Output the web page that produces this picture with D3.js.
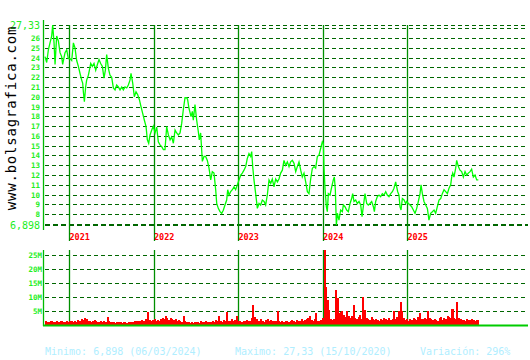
<!DOCTYPE html>
<html>
<head>
    <script src="https://d3js.org/d3.v7.min.js"></script>
    <style>
        body { margin: 0; background: #fff; }
        svg { display: block; }
        .tick-label { font-family: "DejaVu Sans Mono", monospace; font-size: 7.5px; font-weight: bold; fill: #22ee22; }
        .big-label { font-family: "DejaVu Sans Mono", monospace; font-size: 10px; fill: #22ee22; }
        .year-label { font-family: "DejaVu Sans Mono", monospace; font-size: 8.5px; font-weight: bold; fill: #ff0000; }
        .footer { font-family: "DejaVu Sans Mono", monospace; font-size: 10px; fill: #b0eeff; }
        .site { font-family: "DejaVu Sans Mono", monospace; font-size: 14px; fill: #000; letter-spacing: 0.8px; }
    </style>
</head>
<body>
<svg id="chart" width="530" height="360"></svg>
<script>
    // price series: [decimal year, price]
    const prices = [
        [2020.716, 24.1], [2020.736, 23.5], [2020.756, 24.8], [2020.775, 25.5], [2020.795, 26.2], [2020.807, 27.33],
        [2020.823, 25.5], [2020.835, 23.3], [2020.854, 26.2], [2020.874, 25.7], [2020.894, 24.5], [2020.913, 24.1],
        [2020.925, 23.3], [2020.941, 24.0], [2020.953, 24.5], [2020.973, 24.8], [2020.992, 23.9], [2021.012, 23.9],
        [2021.032, 23.7], [2021.052, 25.5], [2021.071, 25.0], [2021.091, 23.7], [2021.111, 23.1], [2021.130, 22.4],
        [2021.150, 21.7], [2021.162, 21.4], [2021.170, 20.5], [2021.182, 19.5], [2021.197, 21.0], [2021.209, 21.7],
        [2021.229, 22.2], [2021.241, 22.7], [2021.257, 23.4], [2021.276, 23.1], [2021.296, 23.4], [2021.316, 22.7],
        [2021.336, 23.3], [2021.355, 23.8], [2021.375, 23.4], [2021.395, 23.1], [2021.414, 21.9], [2021.430, 22.7],
        [2021.446, 24.3], [2021.466, 22.9], [2021.485, 22.2], [2021.505, 22.0], [2021.525, 20.9], [2021.545, 20.7],
        [2021.564, 21.2], [2021.584, 21.0], [2021.604, 20.7], [2021.624, 21.0], [2021.643, 20.7], [2021.663, 21.0],
        [2021.683, 20.9], [2021.702, 21.2], [2021.722, 21.7], [2021.734, 22.4], [2021.754, 21.4], [2021.773, 20.0],
        [2021.793, 20.5], [2021.813, 20.2], [2021.833, 19.7], [2021.852, 19.0], [2021.872, 18.3], [2021.892, 17.6],
        [2021.912, 16.95], [2021.927, 15.6], [2021.943, 15.25], [2021.959, 16.1], [2021.979, 16.6], [2021.998, 17.0],
        [2022.018, 16.3], [2022.038, 16.9], [2022.057, 15.4], [2022.077, 15.08], [2022.097, 14.9], [2022.117, 14.6],
        [2022.136, 14.6], [2022.156, 16.95], [2022.176, 16.1], [2022.196, 15.6], [2022.215, 15.9], [2022.235, 15.25],
        [2022.255, 16.6], [2022.274, 16.3], [2022.294, 16.1], [2022.314, 16.3], [2022.334, 17.3], [2022.353, 18.7],
        [2022.373, 19.9], [2022.393, 19.9], [2022.404, 19.7], [2022.420, 18.8], [2022.444, 17.97], [2022.460, 18.5],
        [2022.471, 17.6], [2022.491, 19.2], [2022.511, 17.6], [2022.531, 16.4], [2022.542, 15.6], [2022.558, 16.3],
        [2022.578, 13.4], [2022.598, 13.9], [2022.617, 13.9], [2022.637, 13.5], [2022.657, 12.7], [2022.677, 11.5],
        [2022.696, 12.35], [2022.716, 12.2], [2022.736, 10.5], [2022.748, 9.1], [2022.767, 8.6], [2022.787, 8.26],
        [2022.807, 8.09], [2022.826, 8.4], [2022.846, 8.94], [2022.866, 9.45], [2022.878, 10.5], [2022.894, 9.96],
        [2022.913, 10.3], [2022.933, 10.5], [2022.953, 10.8], [2022.972, 10.5], [2022.992, 11.0], [2023.012, 11.5],
        [2023.032, 12.0], [2023.051, 12.2], [2023.071, 12.5], [2023.091, 12.86], [2023.110, 13.7], [2023.130, 14.2],
        [2023.150, 13.9], [2023.162, 14.4], [2023.174, 12.86], [2023.189, 11.5], [2023.209, 10.1], [2023.229, 8.6],
        [2023.249, 9.1], [2023.268, 8.94], [2023.288, 9.45], [2023.308, 9.3], [2023.327, 8.94], [2023.347, 9.96],
        [2023.367, 11.5], [2023.387, 11.16], [2023.406, 11.6], [2023.426, 10.8], [2023.446, 11.6], [2023.466, 11.3],
        [2023.485, 11.6], [2023.505, 12.2], [2023.525, 12.5], [2023.544, 13.5], [2023.564, 13.0], [2023.584, 13.35],
        [2023.604, 12.86], [2023.623, 13.35], [2023.643, 13.5], [2023.663, 13.2], [2023.683, 12.35], [2023.702, 12.86],
        [2023.722, 13.35], [2023.742, 12.5], [2023.761, 11.8], [2023.781, 12.2], [2023.801, 11.3], [2023.821, 10.3],
        [2023.840, 10.1], [2023.860, 11.6], [2023.880, 12.7], [2023.900, 12.86], [2023.919, 12.7], [2023.939, 13.9],
        [2023.959, 14.05], [2023.979, 14.74], [2023.998, 15.4], [2024.010, 15.2], [2024.018, 12.7], [2024.030, 10.6],
        [2024.046, 8.77], [2024.057, 8.26], [2024.069, 10.1], [2024.089, 9.96], [2024.109, 10.8], [2024.128, 11.5],
        [2024.140, 11.8], [2024.152, 10.5], [2024.164, 6.898], [2024.176, 8.1], [2024.195, 7.4], [2024.215, 8.43],
        [2024.235, 8.26], [2024.247, 8.94], [2024.266, 8.77], [2024.286, 8.43], [2024.306, 8.26], [2024.326, 9.1],
        [2024.345, 9.6], [2024.357, 10.1], [2024.373, 9.3], [2024.393, 9.45], [2024.412, 9.1], [2024.432, 9.3],
        [2024.452, 8.94], [2024.468, 7.75], [2024.483, 8.77], [2024.503, 10.1], [2024.523, 9.1], [2024.542, 8.94],
        [2024.562, 9.1], [2024.582, 9.3], [2024.602, 8.77], [2024.614, 8.26], [2024.629, 9.3], [2024.649, 9.8],
        [2024.669, 9.96], [2024.688, 9.8], [2024.708, 10.1], [2024.728, 9.96], [2024.748, 10.3], [2024.767, 9.96],
        [2024.787, 9.8], [2024.807, 10.1], [2024.827, 10.3], [2024.846, 10.65], [2024.866, 11.3], [2024.878, 10.8],
        [2024.890, 10.3], [2024.905, 9.96], [2024.917, 8.77], [2024.929, 8.43], [2024.945, 9.6], [2024.965, 9.45],
        [2024.984, 9.1], [2024.996, 9.3], [2025.016, 9.1], [2025.036, 8.94], [2025.055, 8.77], [2025.075, 8.43],
        [2025.095, 8.09], [2025.115, 8.6], [2025.134, 9.3], [2025.154, 10.1], [2025.166, 11.0], [2025.182, 10.1],
        [2025.201, 9.3], [2025.221, 8.94], [2025.241, 8.6], [2025.260, 7.4], [2025.280, 8.1], [2025.300, 8.26],
        [2025.320, 8.43], [2025.339, 8.09], [2025.359, 8.77], [2025.379, 9.45], [2025.399, 9.6], [2025.418, 10.1],
        [2025.438, 10.5], [2025.458, 10.3], [2025.478, 10.1], [2025.497, 10.65], [2025.517, 11.0], [2025.529, 11.8],
        [2025.541, 12.2], [2025.556, 11.8], [2025.576, 12.7], [2025.588, 13.5], [2025.608, 12.86], [2025.627, 12.5],
        [2025.647, 12.35], [2025.667, 11.8], [2025.687, 12.35], [2025.706, 12.0], [2025.726, 12.2], [2025.746, 12.35],
        [2025.765, 12.6], [2025.785, 11.8], [2025.805, 12.0], [2025.825, 11.5], [2025.844, 11.5]
    ];

    // weekly volume, millions, first week starting at volumeStart
    const volumeStart = 2020.716;
    const volumes = [
        1.3, 1.0, 0.9, 1.1, 1.4, 0.8, 1.0, 1.2, 0.9, 1.1, 1.3, 1.0, 0.8, 1.2, 1.0, 1.1,
        1.4, 0.9, 1.2, 1.0, 1.5, 1.3, 2.0, 1.6, 2.2, 1.8, 1.4, 1.2, 1.0, 1.1, 1.6, 1.3, 1.0, 0.9, 1.2,
        1.0, 1.1, 0.8, 2.6, 1.2, 1.0, 0.9, 0.8, 0.7, 0.9, 1.0, 0.8, 0.7, 0.8, 0.9, 0.7, 0.8, 1.0, 0.9, 0.8, 1.2, 1.4, 1.1, 1.3, 1.6, 1.2, 1.4, 1.9,
        4.3,
        1.5, 1.2, 1.6, 2.0, 1.4, 1.7, 1.3, 1.8, 2.4, 1.9, 3.0, 2.2, 1.6, 2.5, 1.8, 1.5, 2.1, 1.4, 1.7, 1.2, 1.0,
        3.0,
        1.2, 0.9, 0.8, 0.7, 0.8, 0.7, 0.9, 1.0, 0.8, 0.7, 1.1, 0.9, 0.8, 1.3, 0.9, 0.8,
        1.0, 1.2, 0.9, 1.5, 1.1, 3.0, 1.3, 1.0, 1.6, 1.2, 4.3, 1.4, 1.1, 1.8, 1.2, 1.5, 3.0, 1.3, 1.1,
        1.0, 1.4, 1.2, 1.7, 1.1, 1.3, 2.5, 7.0, 2.6, 1.8, 1.4, 1.2, 1.9, 1.3, 1.0, 1.5, 2.1, 1.2, 1.7, 1.4, 1.1, 1.3,
        5.0,
        1.2, 1.0, 1.4, 0.9, 1.1, 1.3, 1.0, 1.2, 1.5, 1.1, 1.0, 1.6, 1.2, 1.4, 1.8, 1.3, 1.5, 2.0, 2.2, 3.0, 1.6, 1.4, 1.9, 4.0, 1.3, 1.1, 1.5, 2.2,
        26.7,
        13.5, 8.8, 5.2, 2.0, 1.5, 2.0, 12.4, 9.4, 4.0, 4.5, 5.0, 3.5, 2.8, 4.8, 3.2,
        2.5, 3.0, 7.0, 2.2, 1.8, 2.6, 3.4, 1.9, 10.0, 5.2, 2.4, 2.0, 1.6, 2.8, 1.8, 1.5, 2.0, 1.7, 1.4, 1.9, 1.6, 2.2, 1.8, 1.5, 2.4, 1.7, 2.0,
        5.0,
        2.1, 2.6, 4.8, 8.2, 5.0, 2.2, 1.6, 1.8, 1.4, 2.0, 1.7, 2.5, 1.9, 1.6, 2.8, 4.2, 2.0, 1.8, 2.3, 1.9,
        5.0,
        2.4, 1.8, 1.5, 1.9, 1.6, 1.4, 2.2, 2.8, 1.7, 2.5, 2.0, 3.1, 2.6, 2.2, 5.6, 2.4, 2.0, 7.9, 2.3, 1.8, 1.5, 1.6, 1.4, 1.9, 1.7, 1.5, 1.8, 1.6, 1.4, 1.7, 1.5
    ];

    const years = [2021, 2022, 2023, 2024, 2025];
    const priceMin = 6.898;
    const priceMax = 27.33;
    const priceGridTicks = [8, 9, 10, 11, 12, 13, 14, 15, 16, 17, 18, 19, 20, 21, 22, 23, 24, 25, 26, 27];
    const priceLabelTicks = [8, 9, 10, 11, 12, 13, 14, 15, 16, 17, 18, 19, 20, 21, 22, 23, 24, 25, 26];
    const volumeTicks = [5, 10, 15, 20, 25];
    const volumeTickLabels = ["5M", "10M", "15M", "20M", "25M"];
    const footerTexts = ["Minimo: 6,898 (06/03/2024)", "Maximo: 27,33 (15/10/2020)", "Variación: 296%"];

    const svg = d3.select("#chart");
    const plotLeft = 43, plotRight = 528;

    const x = d3.scaleLinear().domain([2021, 2025]).range([69, 407]);
    const yPrice = d3.scaleLinear().domain([priceMin, priceMax]).range([225, 25]);
    const yVol = d3.scaleLinear().domain([0, 25]).range([324.5, 254.5]);

    // price grid
    svg.append("g").selectAll("line")
        .data(priceGridTicks.concat([priceMax]))
        .join("line")
        .attr("x1", plotLeft + 2).attr("x2", plotRight)
        .attr("y1", d => Math.round(yPrice(d)) + 0.5)
        .attr("y2", d => Math.round(yPrice(d)) + 0.5)
        .attr("stroke", "#006600")
        .attr("stroke-width", 1.2)
        .attr("stroke-dasharray", "4,3");

    svg.append("line")
        .attr("x1", plotLeft + 2).attr("x2", plotRight)
        .attr("y1", yPrice(priceMin)).attr("y2", yPrice(priceMin))
        .attr("stroke", "#006600")
        .attr("stroke-width", 2.2)
        .attr("stroke-dasharray", "5,3");

    // volume grid
    svg.append("g").selectAll("line")
        .data(volumeTicks)
        .join("line")
        .attr("x1", plotLeft + 2).attr("x2", plotRight)
        .attr("y1", d => Math.round(yVol(d)) + 0.5)
        .attr("y2", d => Math.round(yVol(d)) + 0.5)
        .attr("stroke", "#006600")
        .attr("stroke-width", 1.2)
        .attr("stroke-dasharray", "4,3");

    // year lines
    svg.append("g").selectAll("line")
        .data(years)
        .join("line")
        .attr("x1", d => Math.round(x(d)) + 0.5).attr("x2", d => Math.round(x(d)) + 0.5)
        .attr("y1", 25).attr("y2", 241)
        .attr("stroke", "#008f00")
        .attr("stroke-width", 1.3);

    svg.append("g").selectAll("line")
        .data(years)
        .join("line")
        .attr("x1", d => Math.round(x(d)) + 0.5).attr("x2", d => Math.round(x(d)) + 0.5)
        .attr("y1", 250).attr("y2", 326)
        .attr("stroke", "#008f00")
        .attr("stroke-width", 1.3);

    svg.append("g").selectAll("text")
        .data(years)
        .join("text")
        .attr("class", "year-label")
        .attr("x", d => x(d) + 0.5)
        .attr("y", 239.5)
        .text(d => d);

    // left axes
    svg.append("line")
        .attr("x1", plotLeft + 0.5).attr("x2", plotLeft + 0.5)
        .attr("y1", 20).attr("y2", 230)
        .attr("stroke", "#00bb00").attr("stroke-width", 1.3);
    svg.append("line")
        .attr("x1", plotLeft + 0.5).attr("x2", plotLeft + 0.5)
        .attr("y1", 250).attr("y2", 326)
        .attr("stroke", "#00bb00").attr("stroke-width", 1.3);

    // price labels
    svg.append("g").selectAll("text")
        .data(priceLabelTicks)
        .join("text")
        .attr("class", "tick-label")
        .attr("x", 40)
        .attr("y", d => yPrice(d) + 3)
        .attr("text-anchor", "end")
        .text(d => d);

    svg.append("text").attr("class", "big-label")
        .attr("x", 40).attr("y", yPrice(priceMax) + 3.5)
        .attr("text-anchor", "end")
        .text("27,33");
    svg.append("text").attr("class", "big-label")
        .attr("x", 40).attr("y", yPrice(priceMin) + 3.5)
        .attr("text-anchor", "end")
        .text("6,898");

    // volume labels
    svg.append("g").selectAll("text")
        .data(volumeTicks)
        .join("text")
        .attr("class", "tick-label")
        .attr("x", 42)
        .attr("y", d => yVol(d) + 3)
        .attr("text-anchor", "end")
        .text((d, i) => volumeTickLabels[i]);

    // volume bars
    const weekStep = 7 / 365.25;
    const barWidth = x(2021 + weekStep) - x(2021);
    svg.append("g").selectAll("rect")
        .data(volumes)
        .join("rect")
        .attr("x", (d, i) => x(volumeStart + i * weekStep))
        .attr("y", d => Math.max(250, yVol(d)))
        .attr("width", barWidth + 0.4)
        .attr("height", d => yVol(0) - Math.max(250, yVol(d)))
        .attr("fill", "#ff0000")
        .attr("shape-rendering", "crispEdges");

    // volume baseline
    svg.append("line")
        .attr("x1", plotLeft).attr("x2", plotRight)
        .attr("y1", 325.5).attr("y2", 325.5)
        .attr("stroke", "#00cc00").attr("stroke-width", 2);

    // price line
    const line = d3.line()
        .x(d => x(d[0]))
        .y(d => yPrice(d[1]));

    svg.append("path")
        .datum(prices)
        .attr("fill", "none")
        .attr("stroke", "#00ff00")
        .attr("stroke-width", 1.3)
        .attr("d", line);

    // site name
    svg.append("text")
        .attr("class", "site")
        .attr("transform", "translate(16,118) rotate(-90)")
        .attr("text-anchor", "middle")
        .text("www.bolsagrafica.com");

    // footer
    svg.append("g").selectAll("text")
        .data(footerTexts)
        .join("text")
        .attr("class", "footer")
        .attr("x", (d, i) => [45, 235, 420][i])
        .attr("y", 355)
        .text(d => d);
</script>
</body>
</html>
